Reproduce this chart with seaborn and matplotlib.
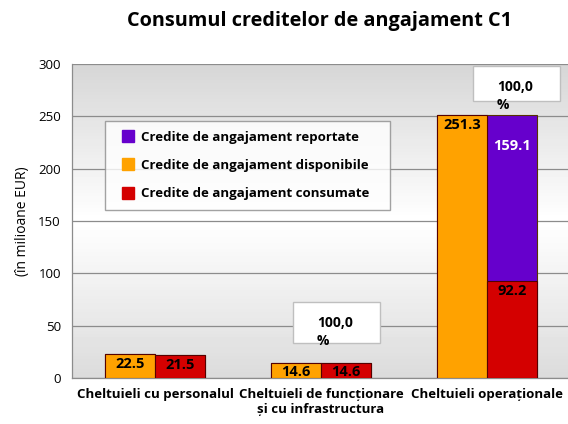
import numpy as np
import pandas as pd
import seaborn as sns
import matplotlib.pyplot as plt
from matplotlib.lines import Line2D
from matplotlib.patches import Rectangle

# Values (millions EUR)
categorii = ["Cheltuieli cu personalul",
             "Cheltuieli de funcționare\nși cu infrastructura",
             "Cheltuieli operaționale"]
disponibile = [22.5, 14.6, 251.3]
consumate = [21.5, 14.6, 92.2]
reportate = [0.0, 0.0, 159.1]
serii = ["Credite de angajament reportate",
         "Credite de angajament disponibile",
         "Credite de angajament consumate"]

ORANGE = "#FFA200"
RED = "#D40000"
PURPLE = "#6600CC"

sns.set_style("white")
plt.rcParams["font.family"] = ["Open Sans", "DejaVu Sans"]
plt.rcParams.update({"text.color": "black", "axes.labelcolor": "black",
                     "xtick.labelcolor": "black", "ytick.labelcolor": "black"})

fig = plt.figure(figsize=(5.68, 4.24), dpi=100)
ax = fig.add_axes([72 / 568, 46 / 424, 498 / 568, 314 / 424])

# gradient background: grey at top and bottom, white in the middle
grad = np.concatenate([np.linspace(0.84, 1.0, 50), np.linspace(1.0, 0.86, 50)])
ax.imshow(grad.reshape(-1, 1), cmap="gray", vmin=0, vmax=1, aspect="auto",
          extent=(-0.5, 2.5, 0, 300), zorder=0, origin="upper")

# bar 1: available, bar 2: consumed + carried over (stacked)
total = [c + r for c, r in zip(consumate, reportate)]
df_top = pd.DataFrame({
    "categorie": categorii * 2,
    "serie": ["disp"] * 3 + ["stack"] * 3,
    "valoare": disponibile + total,
})
df_bottom = pd.DataFrame({
    "categorie": categorii * 2,
    "serie": ["disp"] * 3 + ["stack"] * 3,
    "valoare": disponibile + consumate,
})

kw = dict(x="categorie", y="valoare", hue="serie", hue_order=["disp", "stack"],
          width=0.6, legend=False, ax=ax, saturation=1, linewidth=0.8, zorder=3)
sns.barplot(data=df_top, palette=[ORANGE, PURPLE], edgecolor="#553300", **kw)
sns.barplot(data=df_bottom, palette=[ORANGE, RED], edgecolor="#550000", **kw)

# data labels
n = len(categorii)
bars = ax.patches
lab = dict(textcoords="offset points", ha="center", va="center",
           fontsize=10.5, fontweight="bold", zorder=5)
for i in range(n):
    ob = bars[i]  # orange (first call)
    x = ob.get_x() + ob.get_width() / 2
    ax.annotate(f"{disponibile[i]:.1f}", (x, disponibile[i]), xytext=(0, -7),
                color="black", **lab)
    rb = bars[3 * n + i]
    x2 = rb.get_x() + rb.get_width() / 2
    ax.annotate(f"{consumate[i]:.1f}", (x2, consumate[i]), xytext=(0, -7),
                color="black", **lab)
    if reportate[i] > 0:
        ax.annotate(f"{reportate[i]:.1f}", (x2, total[i]), xytext=(0, -22),
                    color="white", **lab)

ax.set_xlim(-0.5, 2.5)
ax.set_ylim(0, 300)
ax.set_yticks(range(0, 301, 50))
ax.yaxis.grid(True, color="#8c8c8c", linewidth=0.9, zorder=1)
ax.set_axisbelow(True)
ax.set_xlabel("")
ax.set_ylabel("(în milioane EUR)", fontsize=10, labelpad=6)
ax.tick_params(axis="y", labelsize=9.5, length=4, color="#8c8c8c", pad=4)
ax.tick_params(axis="x", labelsize=9.5, length=0, pad=7)
for lbl in ax.get_xticklabels():
    lbl.set_fontweight("bold")
ax.set_xticks([-0.5, 0.5, 1.5, 2.5], minor=True)
ax.tick_params(axis="x", which="minor", length=4, color="#8c8c8c")
for side in ["top", "right"]:
    ax.spines[side].set_visible(False)
for side in ["left", "bottom"]:
    ax.spines[side].set_color("#8c8c8c")
    ax.spines[side].set_linewidth(0.9)

fig.text(0.562, 0.950, "Consumul creditelor de angajament C1", ha="center",
         va="center", fontsize=14.3, fontweight="bold")

# legend
handles = [Line2D([], [], marker="s", linestyle="", markersize=8,
                  markerfacecolor=c, markeredgecolor=c)
           for c in [PURPLE, ORANGE, RED]]
leg = fig.legend(handles, serii, loc="upper left",
                 bbox_to_anchor=(105 / 568, 1 - 121 / 424, 285 / 568, 0.0),
                 mode="expand", frameon=True, fancybox=False, fontsize=9.5,
                 handletextpad=0.0, labelspacing=1.15, borderpad=0.75,
                 handlelength=2.0, borderaxespad=0)
leg.get_frame().set_edgecolor("#8c8c8c")
leg.get_frame().set_linewidth(1.0)
for t in leg.get_texts():
    t.set_fontweight("bold")

# "100,0 %" boxes
for (x0, y0, x1, y1) in [(293, 302, 380, 343), (473, 66, 560, 101)]:
    fig.add_artist(Rectangle((x0 / 568, 1 - y1 / 424), (x1 - x0) / 568,
                             (y1 - y0) / 424, transform=fig.transFigure,
                             facecolor="white", edgecolor="#bfbfbf",
                             linewidth=1.0, zorder=6))
    fig.text((x0 + 42) / 568, 1 - (y0 + 21) / 424, "100,0", ha="center",
             va="center", fontsize=10, fontweight="bold", zorder=7)
    fig.text((x0 + 30) / 568, 1 - (y0 + 39) / 424, "%", ha="center",
             va="center", fontsize=10, fontweight="bold", zorder=7)

fig.savefig("out.png", dpi=100)
